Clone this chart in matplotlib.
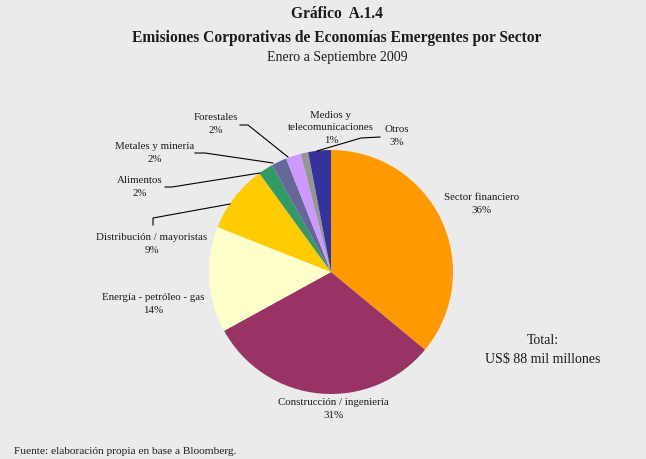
import matplotlib.pyplot as plt

# sector shares, clockwise from 12 o'clock
sectores = ["Sector financiero", "Construcción / ingeniería", "Energía - petróleo - gas",
            "Distribución / mayoristas", "Alimentos", "Metales y minería", "Forestales",
            "Medios y\ntelecomunicaciones", "Otros"]
porcentajes = [36, 31, 14, 9, 2, 2, 2, 1, 3]
colores = ["#FF9900", "#993366", "#FFFFCC", "#FFCC00", "#339966",
           "#666699", "#CC99FF", "#969696", "#333399"]

W, H = 646, 459
BG = "#EBEBEB"
plt.rcParams['font.family'] = ['Liberation Serif', 'DejaVu Serif']

fig = plt.figure(figsize=(W / 100, H / 100), dpi=100, facecolor=BG)
ax = fig.add_axes([0, 0, 1, 1])
ax.set_facecolor(BG)

def py(y):
    # pixel row (from top) -> axis y
    return H - y

ax.pie(porcentajes, colors=colores, startangle=90, counterclock=False,
       center=(331, py(272)), radius=122, frame=True,
       wedgeprops=dict(linewidth=0))
ax.set_xlim(0, W)
ax.set_ylim(0, H)
ax.set_aspect('auto')
ax.axis('off')

# titles
ax.text(W / 2 + 14, py(14), "Gráfico  A.1.4", ha='center', va='center',
        fontsize=11.2, fontweight='bold', color='#1a1a1a')
ax.text(W / 2 + 14, py(38), "Emisiones Corporativas de Economías Emergentes por Sector",
        ha='center', va='center', fontsize=11.2, fontweight='bold', color='#1a1a1a')
ax.text(W / 2 + 14, py(58), "Enero a Septiembre 2009", ha='center', va='center',
        fontsize=10, color='#1a1a1a')

# slice labels
pos_etiquetas = [(482, 204), (333, 409), (153, 304), (152, 244), (140, 187),
                 (155, 153), (216, 124), (331, 128), (397, 136)]
for nombre, pct, (x, y) in zip(sectores, porcentajes, pos_etiquetas):
    ax.text(x, py(y), f"{nombre}\n{pct}%", ha='center', va='center',
            fontsize=7.8, color='#1a1a1a', linespacing=1.45)

# leader lines
lineas = [
    [(153, 225), (153, 218), (230, 204)],
    [(165, 187), (172, 187), (260, 173)],
    [(195, 153), (205, 153), (273, 163)],
    [(240, 125), (248, 125), (288, 157)],
    [(380, 137), (361, 138), (317, 151)],
]
for pts in lineas:
    ax.plot([p[0] for p in pts], [py(p[1]) for p in pts], color='black', lw=0.8)

ax.text(543, py(341), "Total:", ha='center', va='center', fontsize=10, color='#1a1a1a')
ax.text(543, py(360), "US$ 88 mil millones", ha='center', va='center',
        fontsize=10, color='#1a1a1a')

ax.text(14, py(452), "Fuente: elaboración propia en base a Bloomberg.", ha='left',
        va='center', fontsize=8.2, color='#1a1a1a')

fig.savefig("out.png", dpi=100, facecolor=BG)
